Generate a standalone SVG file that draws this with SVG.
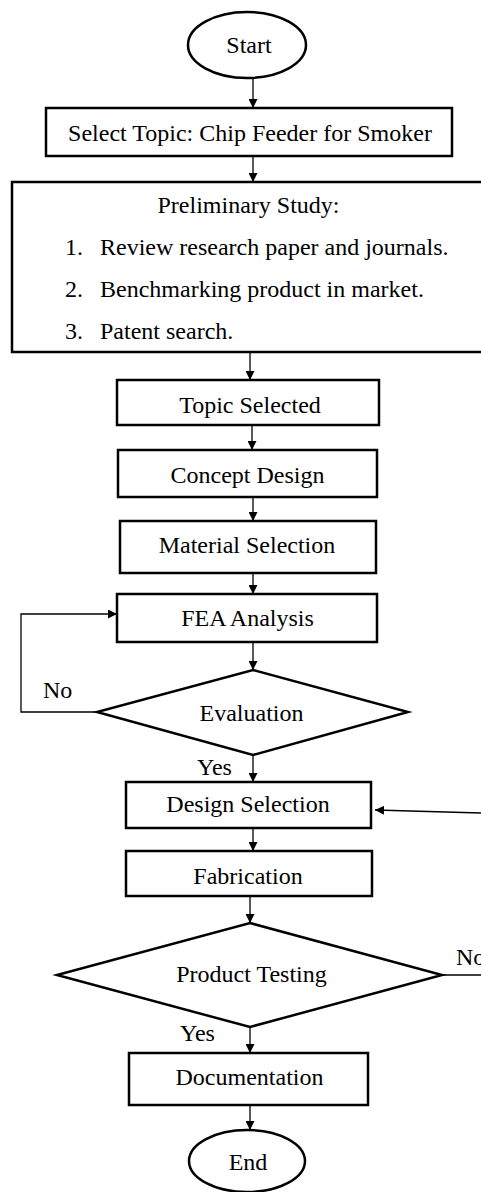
<svg xmlns="http://www.w3.org/2000/svg" width="481" height="1192" viewBox="0 0 481 1192">
<defs>
<marker id="ah" viewBox="0 0 10 10" refX="10" refY="5" markerWidth="9" markerHeight="9" markerUnits="userSpaceOnUse" orient="auto">
<path d="M0,0 L10,5 L0,10 Z" fill="#000"/>
</marker>
</defs>
<style>
.box{fill:#fff;stroke:#000;stroke-width:2.5}
.t{font-family:"Liberation Serif","Times New Roman",serif;font-size:24px;fill:#000}
.c{text-anchor:middle}
.ln{fill:none;stroke:#000;stroke-width:1.3}
</style>
<rect width="481" height="1192" fill="#fff"/>
<g id="connectors">
<line class="ln" x1="253" y1="78" x2="253" y2="108" marker-end="url(#ah)"/>
<line class="ln" x1="253" y1="156" x2="253" y2="182" marker-end="url(#ah)"/>
<line class="ln" x1="250" y1="352" x2="250" y2="380" marker-end="url(#ah)"/>
<line class="ln" x1="252" y1="425" x2="252" y2="450" marker-end="url(#ah)"/>
<line class="ln" x1="253" y1="497" x2="253" y2="521" marker-end="url(#ah)"/>
<line class="ln" x1="253" y1="573" x2="253" y2="594" marker-end="url(#ah)"/>
<line class="ln" x1="253" y1="642" x2="253" y2="670" marker-end="url(#ah)"/>
<polyline class="ln" points="97,712 21,712 21,614 117,614" marker-end="url(#ah)"/>
<line class="ln" x1="253" y1="755" x2="253" y2="782" marker-end="url(#ah)"/>
<line class="ln" x1="481" y1="813" x2="375" y2="810" marker-end="url(#ah)"/>
<line class="ln" x1="253" y1="828" x2="253" y2="851" marker-end="url(#ah)"/>
<line class="ln" x1="250" y1="896" x2="250" y2="923" marker-end="url(#ah)"/>
<line class="ln" x1="442" y1="975" x2="481" y2="975"/>
<line class="ln" x1="250" y1="1027" x2="250" y2="1053" marker-end="url(#ah)"/>
<line class="ln" x1="250" y1="1105" x2="250" y2="1130" marker-end="url(#ah)"/>
<text class="t" x="43" y="698">No</text>
<text class="t" x="197" y="775">Yes</text>
<text class="t" x="456" y="965">No</text>
<text class="t" x="180" y="1041">Yes</text>
</g>
<g id="start">
<ellipse class="box" cx="247" cy="45" rx="59" ry="33"/>
<text class="t c" x="249" y="53">Start</text>
</g>
<g id="select-topic">
<rect class="box" x="46" y="108" width="406" height="48"/>
<text class="t c" x="250" y="141">Select Topic: Chip Feeder for Smoker</text>
</g>
<g id="preliminary">
<rect class="box" x="12" y="182" width="480" height="170"/>
<text class="t c" x="248.5" y="213">Preliminary Study:</text>
<text class="t" x="65" y="255">1.</text>
<text class="t" x="100" y="255">Review research paper and journals.</text>
<text class="t" x="65" y="297">2.</text>
<text class="t" x="100" y="297">Benchmarking product in market.</text>
<text class="t" x="65" y="339">3.</text>
<text class="t" x="100" y="339">Patent search.</text>
</g>
<g id="topic-selected">
<rect class="box" x="117" y="380" width="262" height="45"/>
<text class="t c" x="250" y="413">Topic Selected</text>
</g>
<g id="concept-design">
<rect class="box" x="118" y="450" width="259" height="47"/>
<text class="t c" x="247.5" y="483">Concept Design</text>
</g>
<g id="material-selection">
<rect class="box" x="120" y="521" width="256" height="52"/>
<text class="t c" x="247" y="553">Material Selection</text>
</g>
<g id="fea-analysis">
<rect class="box" x="117" y="594" width="260" height="48"/>
<text class="t c" x="247.5" y="626">FEA Analysis</text>
</g>
<g id="evaluation">
<polygon class="box" points="253,670 408,712 253,755 97,712"/>
<text class="t c" x="251.5" y="721">Evaluation</text>
</g>
<g id="design-selection">
<rect class="box" x="126" y="782" width="245" height="46"/>
<text class="t c" x="248" y="812">Design Selection</text>
</g>
<g id="fabrication">
<rect class="box" x="126" y="851" width="246" height="45"/>
<text class="t c" x="248" y="884">Fabrication</text>
</g>
<g id="product-testing">
<polygon class="box" points="250,923 442,975 250,1027 57,975"/>
<text class="t c" x="251.5" y="982">Product Testing</text>
</g>
<g id="documentation">
<rect class="box" x="129" y="1053" width="239" height="52"/>
<text class="t c" x="249.5" y="1085">Documentation</text>
</g>
<g id="end">
<ellipse class="box" cx="247" cy="1161" rx="58" ry="31"/>
<text class="t c" x="248" y="1170">End</text>
</g>
</svg>
